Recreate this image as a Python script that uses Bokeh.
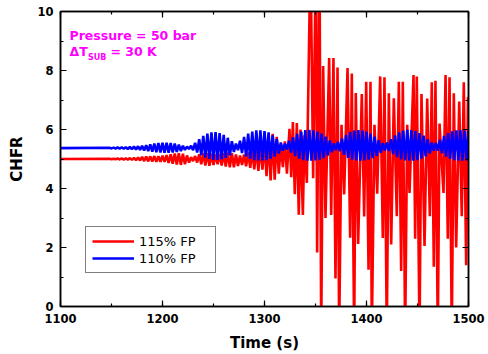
from bokeh.plotting import figure
from bokeh.models import (Range1d, SingleIntervalTicker, LinearAxis, Label,
                          Legend, LegendItem)
from bokeh.embed import file_html
from bokeh.resources import INLINE

# ---------------- data ----------------
x_ticks_interval = 100
y_ticks_interval = 2

# steady values before the oscillations start
blue_start = (1100, 5.37)
red_start = (1100, 5.00)

# 110% FP (blue): one oscillation every 4 s, peak at t, trough at t+2
blue_cycle_t = list(range(1148, 1501, 4))
blue_hi = [5.38, 5.385, 5.39, 5.39, 5.40, 5.41, 5.42, 5.43, 5.45, 5.47,
           5.50, 5.52, 5.54, 5.55, 5.55, 5.54, 5.52, 5.49, 5.45, 5.42,
           5.45, 5.55, 5.67, 5.78, 5.86, 5.90, 5.91, 5.88, 5.82, 5.72,
           5.60, 5.52, 5.62, 5.75, 5.86, 5.93, 5.97, 5.97, 5.95, 5.90,
           5.80, 5.68, 5.56, 5.52, 5.62, 5.74, 5.85, 5.93, 5.98, 5.99,
           5.97, 5.93, 5.86, 5.76, 5.63, 5.53, 5.58, 5.70, 5.82, 5.91,
           5.96, 5.98, 5.97, 5.93, 5.86, 5.76, 5.64, 5.54, 5.56, 5.67,
           5.80, 5.90, 5.96, 5.99, 5.98, 5.95, 5.88, 5.79, 5.67, 5.56,
           5.55, 5.65, 5.78, 5.88, 5.94, 5.97, 5.98, 5.97, 5.95]
blue_lo = [5.36, 5.355, 5.35, 5.35, 5.34, 5.33, 5.32, 5.31, 5.29, 5.27,
           5.25, 5.23, 5.22, 5.21, 5.21, 5.22, 5.24, 5.27, 5.31, 5.34,
           5.30, 5.22, 5.12, 5.05, 5.00, 4.97, 4.97, 4.99, 5.04, 5.12,
           5.24, 5.30, 5.20, 5.08, 5.00, 4.96, 4.95, 4.95, 4.96, 5.00,
           5.08, 5.18, 5.28, 5.32, 5.22, 5.10, 5.01, 4.96, 4.94, 4.94,
           4.95, 4.98, 5.03, 5.12, 5.23, 5.30, 5.26, 5.14, 5.04, 4.98,
           4.95, 4.94, 4.95, 4.98, 5.03, 5.11, 5.21, 5.29, 5.27, 5.17,
           5.06, 4.99, 4.95, 4.94, 4.94, 4.96, 5.01, 5.09, 5.19, 5.28,
           5.28, 5.19, 5.08, 5.00, 4.96, 4.95, 4.94, 4.95, 4.96]

# 115% FP (red), early part: peak at t, trough at t+2
red_cycle_t = list(range(1148, 1321, 4))
red_hi = [5.01, 5.01, 5.015, 5.02, 5.02, 5.03, 5.04, 5.05, 5.07, 5.08,
          5.09, 5.10, 5.10, 5.11, 5.13, 5.16, 5.19, 5.20, 5.18, 5.12,
          5.06, 5.10, 5.16, 5.20, 5.20, 5.18, 5.15, 5.17, 5.20, 5.22,
          5.20, 5.15, 5.12, 5.15, 5.22, 5.30, 5.38, 5.45, 5.55, 5.70,
          5.85, 5.75, 5.50, 5.60]
red_lo = [4.99, 4.99, 4.985, 4.98, 4.98, 4.97, 4.96, 4.95, 4.93, 4.92,
          4.91, 4.90, 4.90, 4.90, 4.87, 4.84, 4.81, 4.80, 4.82, 4.88,
          4.93, 4.88, 4.82, 4.78, 4.77, 4.80, 4.82, 4.78, 4.74, 4.72,
          4.72, 4.76, 4.80, 4.75, 4.70, 4.65, 4.60, 4.64, 4.42, 4.27,
          4.30, 4.50, 4.72, 4.50]

# 115% FP (red), large-amplitude part: successive extrema
red_late_t = [1324.5, 1326.2, 1327.8, 1329.7, 1331.7, 1333.6, 1335.3, 1337.6, 1339.2, 1341.5,
              1345.1, 1347.7, 1350.3, 1351.6, 1353.9, 1355.6, 1357.5, 1359.8, 1363.4, 1365.4,
              1367.6, 1369.6, 1371.6, 1373.2, 1375.5, 1378.1, 1381.4, 1384.0, 1385.6, 1387.9,
              1389.5, 1391.8, 1395.4, 1397.7, 1399.7, 1402.0, 1403.9, 1405.2, 1407.8, 1410.5,
              1413.4, 1416.0, 1417.6, 1419.9, 1421.9, 1424.2, 1426.8, 1429.7, 1431.7, 1434.0,
              1435.6, 1437.9, 1439.9, 1442.2, 1446.1, 1447.7, 1449.3, 1452.0, 1453.9, 1456.9,
              1459.5, 1462.1, 1464.0, 1466.0, 1467.6, 1469.9, 1471.6, 1475.5, 1477.5, 1479.7,
              1481.4, 1483.6, 1485.6, 1487.9, 1490.9, 1493.4, 1495.4, 1497.7, 1499.5]
red_late_v = [6.02, 4.38, 6.25, 3.81, 6.22, 3.11, 6.0, 3.1, 5.8, 4.19,
              12, 4.35, 12, 1.83, 12, -1, 8.15, 3.0, 8.42, 3.1,
              8.42, 0.95, 8.1, -1, 6.16, 3.8, 8.08, 2.33, 7.9, -1,
              7.24, 2.12, 7.2, 3.05, 7.62, 1.25, 7.62, -1, 6.16, 3.82,
              7.8, 2.32, 7.77, -1, 7.23, 2.1, 7.06, 3.06, 7.62, 1.2,
              7.62, -1, 6.16, 3.85, 7.85, 2.3, 7.8, -1, 7.2, 2.05,
              7.05, 3.06, 7.6, 1.35, 7.65, -1, 6.2, 3.85, 7.85, 2.3,
              7.77, -1, 7.23, 2.0, 6.95, 3.06, 7.6, 1.4, 7.1]

labels = ["115% FP", "110% FP"]


def zigzag(start, cycle_t, hi, lo):
    xs, ys = [start[0]], [start[1]]
    for t, h, l in zip(cycle_t, hi, lo):
        xs += [t, t + 2]
        ys += [h, l]
    return xs, ys


bx, by = zigzag(blue_start, blue_cycle_t, blue_hi, blue_lo)
rx, ry = zigzag(red_start, red_cycle_t, red_hi, red_lo)
rx += red_late_t
ry += red_late_v

# ---------------- figure ----------------
FONT = "DejaVu Sans"
p = figure(width=488, height=354, output_backend="svg", toolbar_location=None,
           x_range=Range1d(1100, 1500), y_range=Range1d(0, 10),
           min_border_left=60, min_border_right=20, min_border_top=11,
           min_border_bottom=47, background_fill_color="white",
           border_fill_color="white")
p.grid.visible = False
p.outline_line_color = "black"
p.outline_line_width = 1.5

r_red = p.line(rx, ry, line_color="#FF0000", line_width=2.6)
r_blue = p.line(bx, by, line_color="#0000FF", line_width=2.6)

xt = SingleIntervalTicker(interval=x_ticks_interval, num_minor_ticks=2)
yt = SingleIntervalTicker(interval=y_ticks_interval, num_minor_ticks=2)


def style_axis(ax, ticker, show_labels):
    ax.ticker = ticker
    ax.axis_line_color = "black"
    ax.axis_line_width = 1.5
    ax.major_tick_in = 6
    ax.major_tick_out = 0
    ax.minor_tick_in = 3
    ax.minor_tick_out = 0
    ax.major_tick_line_color = "black"
    ax.minor_tick_line_color = "black"
    ax.major_tick_line_width = 1.2
    ax.minor_tick_line_width = 1.2
    if show_labels:
        ax.major_label_text_font = FONT
        ax.major_label_text_font_style = "bold"
        ax.major_label_text_font_size = "11.5px"
        ax.major_label_text_color = "black"
        ax.major_label_standoff = 7
        ax.axis_label_text_font = FONT
        ax.axis_label_text_font_style = "bold"
        ax.axis_label_text_font_size = "15px"
        ax.axis_label_text_color = "black"
        ax.axis_label_standoff = 8
    else:
        ax.major_label_text_color = None
        ax.major_label_text_font_size = "1px"
        ax.major_label_standoff = 0


style_axis(p.xaxis[0], xt, True)
style_axis(p.yaxis[0], yt, True)
p.xaxis[0].axis_label = "Time (s)"
p.yaxis[0].axis_label = "CHFR"

ax_top = LinearAxis()
style_axis(ax_top, SingleIntervalTicker(interval=x_ticks_interval, num_minor_ticks=2), False)
p.add_layout(ax_top, "above")
ax_right = LinearAxis()
style_axis(ax_right, SingleIntervalTicker(interval=y_ticks_interval, num_minor_ticks=2), False)
p.add_layout(ax_right, "right")

legend = Legend(items=[LegendItem(label=labels[0], renderers=[r_red]),
                       LegendItem(label=labels[1], renderers=[r_blue])],
                location=(25, 33), margin=0, padding=6, spacing=1,
                glyph_width=42, glyph_height=16, label_height=16,
                label_width=70, label_standoff=5, label_text_font=FONT,
                label_text_font_size="13px", label_text_color="black",
                border_line_color="black", border_line_width=1,
                background_fill_color="white", background_fill_alpha=1)
p.add_layout(legend)

mag = "#FF00FF"
common = dict(text_color=mag, text_font=FONT, text_font_style="bold",
              text_baseline="alphabetic")
p.add_layout(Label(x=1108.8, y=9.18, text="Pressure = 50 bar",
                   text_font_size="12.5px", **common))
p.add_layout(Label(x=1108.8, y=8.64, text="\u0394T",
                   text_font_size="12.5px", **common))
p.add_layout(Label(x=1108.8, y=8.64, x_offset=18.5, y_offset=-6.3, text="SUB",
                   text_font_size="8px", **common))
p.add_layout(Label(x=1108.8, y=8.64, x_offset=41, text="= 30 K",
                   text_font_size="12.5px", **common))

open("out.html", "w").write(file_html(p, INLINE))
